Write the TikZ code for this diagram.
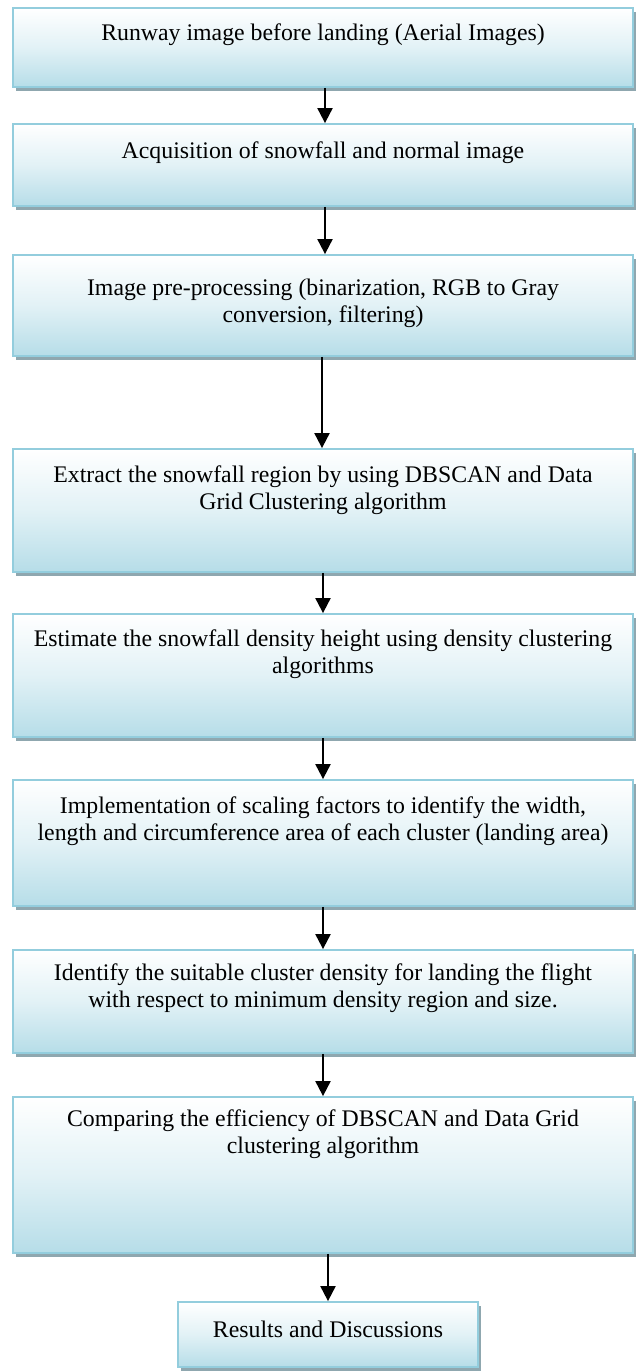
\documentclass[tikz,border=0pt]{standalone}
\usepackage{fontspec}
\setmainfont{Liberation Serif}
\usetikzlibrary{arrows.meta,shadows}
\definecolor{boxblue}{HTML}{B6DDE8}
\definecolor{boxborder}{HTML}{93CDDD}
\definecolor{shadowgrey}{HTML}{8FA7AF}
\tikzset{
  stepbox/.style={draw=boxborder, line width=1.8pt, top color=white, bottom color=boxblue,
    middle color=boxblue!40!white, inner sep=0pt, rectangle,
    drop shadow={shadow xshift=3pt, shadow yshift=-4pt, fill=shadowgrey, opacity=1}},
  txt/.style={font=\fontsize{23.8}{27}\selectfont, align=center, inner sep=0pt, anchor=north},
  arr/.style={-{Triangle[length=15pt,width=15pt]}, line width=2pt, black}
}
\begin{document}
\begin{tikzpicture}[x=1pt,y=1pt]
\useasboundingbox (0,0) rectangle (643,-1372);
% boxes
\node[stepbox, minimum width=620pt, minimum height=79pt]  (b1) at (323,-47.5) {};
\node[stepbox, minimum width=620pt, minimum height=82pt]  (b2) at (323,-165) {};
\node[stepbox, minimum width=620pt, minimum height=101pt] (b3) at (323,-305.5) {};
\node[stepbox, minimum width=620pt, minimum height=123pt] (b4) at (323,-510.5) {};
\node[stepbox, minimum width=620pt, minimum height=123pt] (b5) at (323,-675.5) {};
\node[stepbox, minimum width=620pt, minimum height=126pt] (b6) at (323,-843) {};
\node[stepbox, minimum width=620pt, minimum height=103pt] (b7) at (323,-1001.5) {};
\node[stepbox, minimum width=620pt, minimum height=156pt] (b8) at (323,-1175) {};
\node[stepbox, minimum width=300pt, minimum height=65pt]  (b9) at (328,-1334.5) {};
% texts
\node[txt] (t1) at (323,-21) {\strut Runway image before landing (Aerial Images)};
\node[txt] (t2) at (323,-139) {\strut Acquisition of snowfall and normal image};
\node[txt] (t3) at (323,-276) {\strut Image pre-processing (binarization, RGB to Gray\\conversion, filtering)};
\node[txt] (t4) at (323,-463) {\strut Extract the snowfall region by using DBSCAN and Data\\Grid Clustering algorithm};
\node[txt] (t5) at (323,-627) {\strut Estimate the snowfall density height using density clustering\\algorithms};
\node[txt] (t6) at (323,-794) {\strut Implementation of scaling factors to identify the width,\\length and circumference area of each cluster (landing area)};
\node[txt] (t7) at (323,-961) {\strut Identify the suitable cluster density for landing the flight\\with respect to minimum density region and size.};
\node[txt] (t8) at (323,-1107) {\strut Comparing the efficiency of DBSCAN and Data Grid\\clustering algorithm};
\node[txt] (t9) at (328,-1318) {\strut Results and Discussions};
% arrows
\draw[arr] ([xshift=2pt]b1.south) -- ([xshift=2pt]b2.north);
\draw[arr] ([xshift=2pt]b2.south) -- ([xshift=2pt]b3.north);
\draw[arr] ([xshift=-1pt]b3.south) -- ([xshift=-1pt]b4.north);
\draw[arr] (b4.south) -- (b5.north);
\draw[arr] (b5.south) -- (b6.north);
\draw[arr] (b6.south) -- (b7.north);
\draw[arr] (b7.south) -- (b8.north);
\draw[arr] ([xshift=5pt]b8.south) -- (b9.north);
\end{tikzpicture}
\end{document}
